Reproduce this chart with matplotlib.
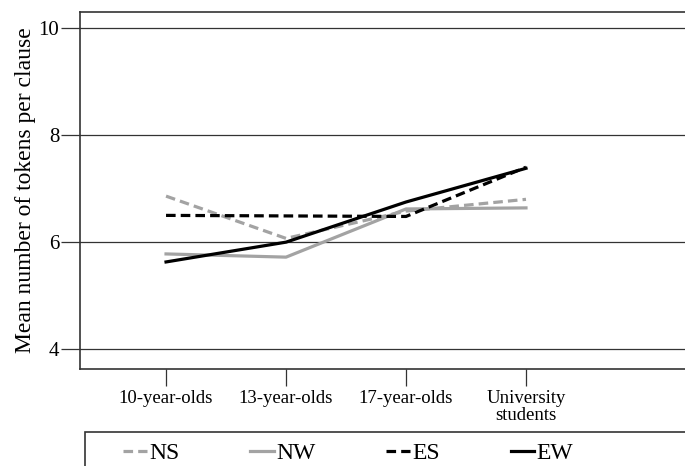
import matplotlib.pyplot as plt
from matplotlib.lines import Line2D
from matplotlib.patches import Rectangle

plt.rcParams['font.family'] = ['Liberation Serif', 'DejaVu Serif']

groups = ["10-year-olds", "13-year-olds", "17-year-olds", "University\nstudents"]
ns = [6.86, 6.07, 6.58, 6.80]
nw = [5.78, 5.72, 6.62, 6.64]
es = [6.50, 6.49, 6.48, 7.40]
ew = [5.63, 6.00, 6.75, 7.38]

gray = '#a3a3a3'
dash = (0, (3, 1.6))

fig = plt.figure(figsize=(6.85, 4.66), dpi=100)
ax = fig.add_axes([80/685, 1-369/466, 700/685, (369-12)/466])

x = range(len(groups))
ax.plot(x, ns, color=gray, lw=2.3, ls=dash)
ax.plot(x, nw, color=gray, lw=2.3)
ax.plot(x, es, color='black', lw=2.3, ls=dash)
ax.plot(x, ew, color='black', lw=2.3)

ax.set_xlim(-0.717, 5.117)
ax.set_ylim(3.63, 10.3)
ax.set_yticks([4, 6, 8, 10])
ax.set_xticks(list(x))
ax.set_xticklabels(groups, fontsize=13.5, linespacing=1.0)
ax.tick_params(axis='y', labelsize=15, length=14, width=0.9, color='#333333', pad=1)
ax.tick_params(axis='x', length=12, width=0.9, color='#333333', pad=3)
ax.yaxis.grid(True, color='#333333', lw=0.9)
ax.set_axisbelow(True)
for s in ['left', 'bottom', 'top']:
    ax.spines[s].set_color('#333333')
    ax.spines[s].set_linewidth(1.2)
ax.spines['right'].set_visible(False)
ax.set_ylabel('Mean number of tokens per clause', fontsize=17, labelpad=2)

# legend box, running off the bottom and right edges
fig.patches.append(Rectangle((85/685, -0.1), 1.0, 0.1 + (466-432)/466,
                             transform=fig.transFigure, fill=False,
                             edgecolor='#333333', lw=1.2))

handles = [
    Line2D([], [], color=gray, lw=2.3, ls=dash),
    Line2D([], [], color=gray, lw=2.3),
    Line2D([], [], color='black', lw=2.3, ls=dash),
    Line2D([], [], color='black', lw=2.3),
]
leg = fig.legend(handles, ['NS', 'NW', 'ES', 'EW'], ncol=4, loc='center left',
                 bbox_to_anchor=(123/685, 1-453/466), frameon=False,
                 fontsize=17, handlelength=1.0, handletextpad=0.1,
                 columnspacing=3.0, borderaxespad=0, borderpad=0)

fig.savefig('out.png', dpi=100)
